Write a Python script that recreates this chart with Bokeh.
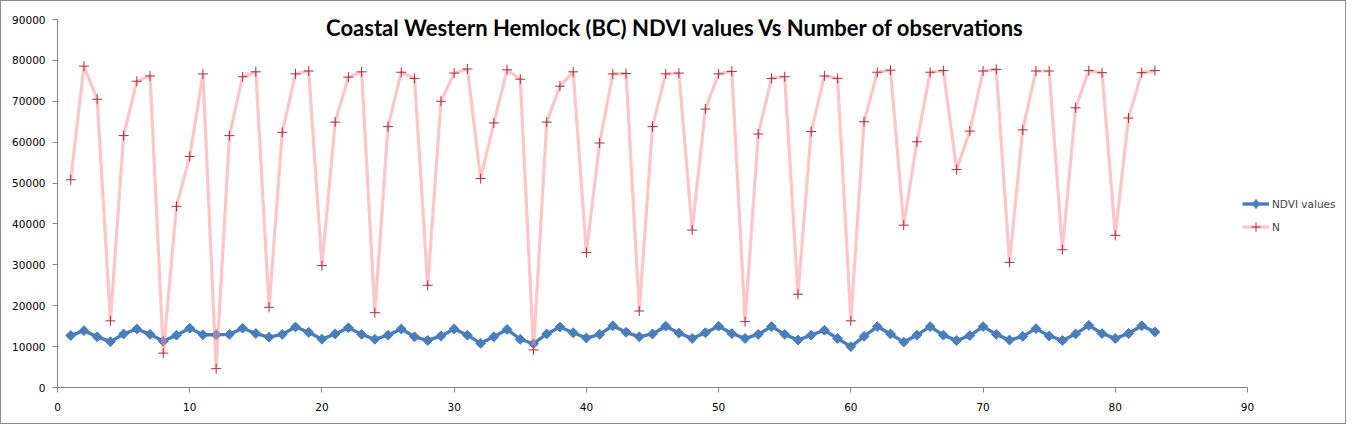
import numpy as np
from bokeh.plotting import figure
from bokeh.models import Range1d, FixedTicker, Legend, LegendItem, Label
from bokeh.embed import file_html
from bokeh.resources import INLINE

# ---- data ----
obs_index = list(range(1, 84))
ndvi_values = [12700, 13900, 12400, 11200, 13100, 14300, 13000, 11300, 12800, 14500,
               12900, 12900, 13000, 14500, 13200, 12300, 13000, 14800, 13500, 11800,
               13100, 14600, 13000, 11800, 12800, 14300, 12400, 11500, 12600, 14300,
               12800, 10800, 12400, 14200, 11800, 10700, 13100, 14800, 13400, 12100,
               13000, 15100, 13500, 12400, 13100, 15000, 13300, 12000, 13400, 15000,
               13200, 12000, 13000, 14900, 13000, 11600, 12800, 14000, 12000, 10000,
               12500, 14900, 13100, 11100, 12800, 14900, 12800, 11500, 12700, 14900,
               13000, 11600, 12500, 14400, 12600, 11500, 13100, 15200, 13200, 12000,
               13200, 15100, 13600]
n_values = [50800, 78600, 70500, 16300, 61600, 74900, 76200, 8400, 44300, 56500,
            76700, 4600, 61600, 76000, 77200, 19600, 62400, 76700, 77400, 29800,
            64900, 75900, 77200, 18300, 63800, 77100, 75600, 25000, 70000, 76900,
            77900, 51100, 64700, 77700, 75400, 9200, 64900, 73700, 77200, 33000,
            59800, 76700, 76800, 18700, 63800, 76700, 76900, 38500, 68100, 76700,
            77300, 16100, 62000, 75600, 76000, 22800, 62600, 76200, 75600, 16300,
            65000, 77100, 77600, 39700, 60100, 77100, 77500, 53300, 62700, 77400,
            77800, 30600, 63000, 77400, 77400, 33700, 68400, 77500, 77000, 37200,
            65900, 77000, 77500]
x_ticks = list(range(0, 100, 10))
y_ticks = list(range(0, 100000, 10000))
x_axis_end = 90
title_text = "Coastal Western Hemlock (BC) NDVI values Vs Number of observations"
series_names = ["NDVI values", "N"]

# ---- figure ----
# frame extends right of x=90 to leave room for the legend; axis stops at 90
W, H = 1346, 424
ML, MR, MT, MB = 56, 4, 18, 38
x_end = (W - ML - MR) / 1190.0 * 90
p = figure(width=W, height=H, output_backend="svg", toolbar_location=None,
           x_range=Range1d(0, x_end), y_range=Range1d(0, 90000),
           min_border_left=ML, min_border_right=MR, min_border_top=MT,
           min_border_bottom=MB)
p.outline_line_color = None
p.xgrid.visible = False
p.ygrid.visible = False
p.background_fill_color = "white"
p.border_fill_color = "white"
p.styles = {"border": "1px solid #8c8c8c"}

axis_col = "#868686"
for ax in (p.xaxis[0], p.yaxis[0]):
    ax.axis_line_color = axis_col
    ax.major_tick_line_color = axis_col
    ax.major_tick_out = 5
    ax.major_tick_in = 0
    ax.minor_tick_line_color = None
    ax.major_label_text_font = "DejaVu Sans"
    ax.major_label_text_font_size = "10.5px"
    ax.major_label_text_color = "#000000"
p.xaxis.ticker = FixedTicker(ticks=x_ticks)
p.xaxis.bounds = (0, x_axis_end)
p.yaxis.ticker = FixedTicker(ticks=y_ticks)
p.yaxis.major_label_standoff = 7
p.xaxis.major_label_standoff = 10

blue = "#4a7ebb"
r_ndvi_line = p.line(obs_index, ndvi_values, line_color=blue, line_width=3.4)
# legend-only diamond glyph (legend ignores marker angle); hidden under first marker
r_leg_diamond = p.scatter(x=obs_index[:1], y=ndvi_values[:1], marker="diamond", size=8,
                          fill_color=blue, line_color=blue)
r_ndvi_pts = p.scatter(obs_index, ndvi_values, marker="square", angle=np.pi / 4, size=7,
                       fill_color=blue, line_color=blue)
r_n_line = p.line(obs_index, n_values, line_color="#ff8c96", line_alpha=0.5, line_width=3.2)
r_n_pts = p.scatter(obs_index, n_values, marker="cross", size=10,
                    line_color="#a8323a", line_width=1)

p.add_layout(Label(x=46.75, y=87970, text=title_text, text_align="center",
                   text_baseline="middle", text_font="Lato", text_font_style="bold",
                   text_font_size="22px", text_color="#000000"))

legend = Legend(items=[LegendItem(label=series_names[0], renderers=[r_ndvi_line, r_leg_diamond]),
                       LegendItem(label=series_names[1], renderers=[r_n_line, r_n_pts])],
                location=(1185, 149), padding=0, margin=0, border_line_color=None,
                background_fill_alpha=0, glyph_width=27, glyph_height=23,
                label_height=20, spacing=0, label_standoff=3,
                label_text_font="DejaVu Sans", label_text_font_size="10.5px")
p.add_layout(legend)

open("out.html", "w").write(file_html(p, INLINE))
